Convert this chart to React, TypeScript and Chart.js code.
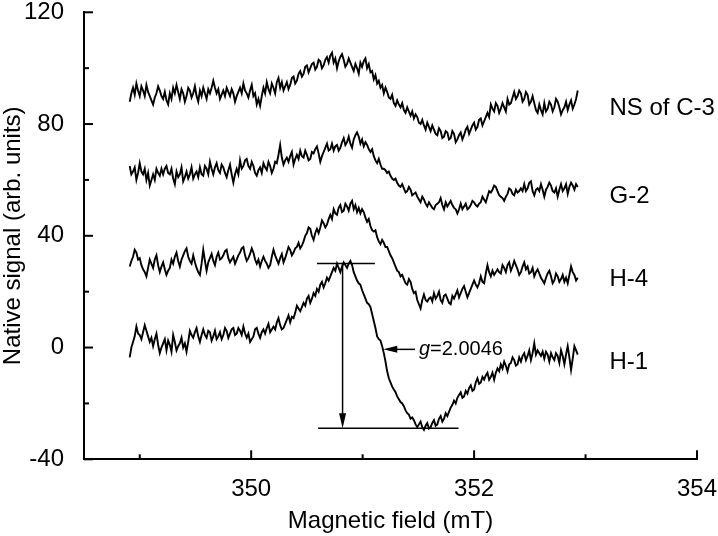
import React, { useEffect, useRef } from "react";
import { Chart, registerables } from "chart.js";

Chart.register(...registerables);

// Sampling of the magnetic field axis (mT)
const FIELD_START = 348.91;
const FIELD_STEP = 0.015;

// Native signal traces (arb. units)
const NS_C3 = [
  88, 91, 93, 90.5, 94.5, 92, 90, 93.5, 92, 90, 94, 91.5, 90, 88.5, 87, 89.5, 91, 93.5, 92, 90,
  89, 91.5, 88.5, 87, 91, 89, 93, 91, 94, 91.5, 89, 92.5, 91, 88, 90, 93, 92, 89.5, 91, 93.5,
  90, 88, 92, 90, 93, 91, 89, 92.5, 91, 93, 95.5, 93, 91, 92.5, 89, 90.5, 92, 90, 93, 91.5,
  90, 92.5, 91, 88, 90, 91.5, 93, 91, 94.5, 92, 91, 89.5, 92, 94, 90, 91, 87, 89, 86.5, 90,
  93, 91, 95, 92.5, 91, 94.5, 93, 91, 95, 96.5, 93, 95, 92, 93.5, 95, 92.5, 94, 96.5, 97, 94.5,
  95.5, 98, 99, 97, 98, 100.5, 101, 98.5, 100, 101.5, 102, 99.5, 100.5, 103, 102.5, 100, 101, 103, 104, 102,
  104.5, 105.5, 102, 103.5, 100, 102.5, 104, 105, 103, 100.5, 101.5, 103.5, 102, 100.5, 99, 101.5, 100, 98, 102, 100.5,
  102.5, 103.5, 100, 101.5, 98.5, 99, 96, 97.5, 94.5, 95.5, 93, 94, 91, 93, 91.5, 89.5, 89, 90.5, 87.5, 86.5,
  88.5, 87, 86, 87.5, 85, 84, 86, 84.5, 83, 84.5, 82, 83.5, 82.5, 80.5, 80, 81.5, 79.5, 78, 80.5, 79,
  77.5, 79.5, 78, 76.5, 76, 78.5, 77.5, 75, 75.5, 77.5, 77, 74.5, 75, 77.5, 76.5, 73.5, 74.5, 76, 77, 74.5,
  76, 78, 79, 76.5, 78, 79.5, 80.5, 78, 79, 81.5, 82, 79.5, 81, 82.5, 84, 82.5, 87, 85.5, 84.5, 87.5,
  86.5, 84, 85.5, 87.5, 86, 84.5, 89, 87, 87.5, 89.5, 91.5, 89, 90, 92, 91, 88, 89, 91.5, 90.5, 87,
  88, 90, 87.5, 85, 84, 87, 85, 83.5, 87.5, 84.5, 85.5, 88, 87, 84.5, 86, 89, 88, 86, 83.5, 85,
  86, 88, 85, 87, 88.5, 85.5, 87, 89, 92,
];

const G2 = [
  65, 62, 63, 64.5, 60, 62.5, 66, 63, 62, 64, 60, 62.5, 58, 60, 62, 60, 64, 62.5, 61.5, 64,
  62, 64, 65, 62.5, 62, 64, 60.5, 58.5, 63, 61, 62, 64.5, 59.5, 61, 63, 60.5, 62, 64.5, 60.5, 62,
  63, 61, 64.5, 62, 61.5, 65, 64, 62, 66.5, 64, 62, 64.5, 66, 63.5, 62.5, 65.5, 64.5, 62.5, 61, 63.5,
  65.5, 62, 59, 62, 64, 62, 67, 64, 65, 67, 67.5, 65, 64, 66.5, 65, 62.5, 61.5, 63.5, 64.5, 62.5,
  66, 64.5, 63.5, 66.5, 65, 62.5, 64, 66.5, 66, 69, 72.5, 68, 65.5, 67, 68, 66.5, 68.5, 70, 65.5, 67.5,
  69, 67.5, 70.5, 68.5, 68, 70.5, 69, 67, 67.5, 70, 69.5, 71, 72, 69.5, 66.5, 68.5, 70, 71.5, 73, 70.5,
  71, 73, 70.5, 72, 72.5, 70.5, 71.5, 73.5, 75, 72.5, 73.5, 75.5, 73, 71.5, 74.5, 76, 77, 75.5, 73, 74.5,
  72, 73.5, 72.5, 71, 70, 71, 68.5, 67, 66, 67.5, 65.5, 64, 64, 63.5, 62.5, 63, 61.5, 60.5, 60, 60.5,
  59, 58, 57.5, 58.5, 57, 55.5, 56, 57.5, 56.5, 54.5, 55, 55.5, 54, 53, 52, 54, 53, 51.5, 50.5, 52,
  51, 50, 49.5, 51, 51.5, 52, 53.5, 51, 49.5, 52, 50.5, 51.5, 52.5, 51, 50, 49.5, 48, 49.5, 51.5, 49.5,
  50.5, 51.5, 49.5, 50, 51, 52.5, 52, 51, 50.5, 51.5, 52, 54, 53, 52, 54, 56, 55.5, 56.5, 58, 57.5,
  56, 54.5, 54, 53.5, 52.5, 54, 55, 57, 56.5, 55, 54.5, 56.5, 55.5, 56, 57, 56, 58.5, 56, 57, 59,
  59.5, 56, 54.5, 56.5, 57, 56, 58.5, 56.5, 54, 56.5, 57.5, 59, 58, 56, 55.5, 57, 54, 56.5, 58.5, 56,
  57, 58.5, 55, 57.5, 59, 58, 56.5, 58.5, 57.5,
];

const H4 = [
  29, 31, 32.5, 35, 34, 31.5, 32, 29.5, 28, 27, 25.5, 28.5, 31.5, 30, 28.5, 31.5, 33, 29.5, 27, 29,
  30.5, 28, 26, 27.5, 28.5, 31.5, 30, 32.5, 34, 31, 29, 31.5, 33, 34.5, 35.5, 32.5, 31, 30, 33, 30.5,
  28.5, 27, 26, 30, 35, 31, 27.5, 30.5, 32, 33.5, 31, 29.5, 32.5, 34, 31.5, 32, 33, 34.5, 35, 32,
  30.5, 31.5, 32.5, 30, 31.5, 33, 34, 35.5, 36, 33, 31, 32, 33.5, 35.5, 34, 31.5, 30, 31.5, 29, 31,
  32.5, 31, 30, 28.5, 29.5, 32.5, 35, 33, 31.5, 30, 32, 33.5, 30.5, 32, 34, 36, 35, 33, 34, 35.5,
  36, 37.5, 35.5, 36.5, 38, 40, 41, 43, 42.5, 40, 38.5, 41, 42.5, 41, 43, 45.5, 44.5, 43, 44, 46,
  47.5, 46, 49.5, 48, 47.5, 50, 51, 48.5, 49, 51.5, 50.5, 49, 51.5, 52.5, 49.5, 51, 48.5, 50, 48, 49.5,
  48.5, 46.5, 45, 46, 43.5, 42, 41.5, 42, 39.5, 38, 37, 38.5, 37.5, 36, 36, 34.5, 33, 32, 30.5, 29,
  27.5, 27, 25.5, 26, 24.5, 23, 22.5, 24.5, 23.5, 21, 19.5, 20, 17, 15.5, 14, 17, 19, 17, 16.5, 17.5,
  18, 16.5, 19.5, 17.5, 18.5, 20, 17, 16, 18.5, 19, 17.5, 16, 15.5, 18.5, 17.5, 19, 20.5, 18, 19.5, 21,
  22, 20, 18, 19.5, 21, 22.5, 24, 22.5, 21.5, 23, 25.5, 23.5, 23, 26.5, 29.5, 27, 25.5, 27.5, 26, 27,
  28, 27, 26.5, 29.5, 28.5, 27, 29.5, 30.5, 27.5, 29, 31, 29.5, 28, 26, 27, 29, 30.5, 28, 29, 26.5,
  27, 28.5, 25.5, 27, 28, 26.5, 25, 24, 23, 25, 26.5, 27.5, 25.5, 23, 24, 26.5, 25.5, 23.5, 24.5, 26,
  23.5, 25, 23, 26, 29, 27, 26, 24, 25,
];

const H1 = [
  -3.5, 0, 2, 4, 7.5, 5, 4.5, 3, 5.5, 8, 6, 4, 2, 3.5, 0.5, 3, 5, 1, -2, 0,
  1.5, 3, -1, 2.5, 1, -1.5, 4.5, 2, -1, 0.5, 1.5, 3.5, 0, 1.5, -1.5, 2, 6, 4.5, 3.5, 5.5,
  7, 4, 2, 4.5, 6.5, 4.5, 3.5, 6, 5.5, 2.5, 4, 6, 3, 4, 5.5, 3, 4.5, 7, 6, 3.5,
  5, 6.5, 7, 4.5, 5, 7, 6, 4.5, 7.5, 5, 3.5, 5, 2, 3, 4, 6.5, 7, 5, 3.5, 5.5,
  6.5, 5, 7, 8.5, 5.5, 6.5, 7.5, 6.5, 9, 10.5, 8, 6.5, 7, 8.5, 10, 11.5, 9, 11, 10.5, 12.5,
  15, 14, 13, 14.5, 16, 15, 17.5, 18.5, 16, 17.5, 19.5, 18.5, 21, 20, 22.5, 23.5, 21.5, 23, 25, 24,
  25.5, 27, 28.5, 27.5, 30, 28.5, 27, 29, 30.5, 29.5, 28.5, 30, 31, 29.5, 27, 25.5, 24, 23, 22.5, 20.5,
  19, 17.5, 16, 15.5, 14.5, 12, 9.5, 7, 4, 3, 2.5, 0.5, -2, -5, -8.5, -11, -12.5, -14, -15, -16,
  -17.5, -18.5, -19.5, -20, -21, -22.5, -23.5, -24, -25.5, -25, -26, -27.5, -28.5, -27.5, -26.5, -28.5, -29.5, -28, -27, -29,
  -28.5, -27, -26, -28, -27.5, -25.5, -24.5, -26.5, -25.5, -23.5, -24.5, -23, -21.5, -20.5, -19, -20, -18, -17, -16, -18,
  -17.5, -15.5, -16.5, -14.5, -13.5, -15.5, -15, -12.5, -11, -13, -12.5, -10.5, -11.5, -10, -9, -11.5, -10.5, -9, -11.5, -9,
  -7.5, -8.5, -6, -7.5, -5, -6.5, -8.5, -6, -5.5, -3.5, -4.5, -6.5, -6, -3.5, -5, -3, -2, -4.5, -3, -1,
  -4.5, -2, 1.5, -2.5, -1, -2, -3, -1.5, -4, -1.5, -2.5, -5, -2, -3.5, -4.5, -2, -3, -5.5, -1, -3,
  -6, -2.5, 0.5, -3.5, -8, -4, 0.5, -1, -2.5,
];

const SERIES_NAMES = ["NS of C-3", "G-2", "H-4", "H-1"];
const SERIES_VALUES = [NS_C3, G2, H4, H1];
const LABEL_FIELD = 353.215;
const LABEL_BASELINES = [83.2, 51.8, 22.0, -7.6];

const X_TICKS = [350, 352, 354];
const X_MINOR = [349, 351, 353];
const Y_TICKS = [-40, 0, 40, 80, 120];
const Y_MINOR = [-20, 20, 60, 100];

// Peak-to-peak annotation (data coordinates)
const PEAK_LINE = { from: 350.59, to: 351.11, y: 30.1 };
const TROUGH_LINE = { from: 350.6, to: 351.86, y: -28.9 };
const PP_ARROW_FIELD = 350.82;
const G_ARROW = { from: 351.47, to: 351.185, y: -0.65 };
const G_TEXT = { x: 351.505, y: -2.8, value: "=2.0046" };

const FONT = '"Liberation Sans", Arial, Helvetica, sans-serif';

const toPoints = (vals: number[]) =>
  vals.map((v, i) => ({ x: +(FIELD_START + i * FIELD_STEP).toFixed(4), y: v }));

const annotationPlugin = {
  id: "eprAnnotations",
  afterDraw(chart: any) {
    const { ctx, chartArea } = chart;
    const xs = chart.scales.x;
    const ys = chart.scales.y;
    const X = (v: number) => xs.getPixelForValue(v);
    const Y = (v: number) => ys.getPixelForValue(v);
    ctx.save();
    ctx.strokeStyle = "#000";
    ctx.fillStyle = "#000";
    const line = (x1: number, y1: number, x2: number, y2: number) => {
      ctx.beginPath();
      ctx.moveTo(x1, y1);
      ctx.lineTo(x2, y2);
      ctx.stroke();
    };
    // inward ticks
    ctx.lineWidth = 2;
    const b = chartArea.bottom;
    const l = chartArea.left;
    X_TICKS.forEach((v) => line(X(v), b, X(v), b - 9));
    X_MINOR.forEach((v) => line(X(v), b, X(v), b - 5));
    Y_TICKS.forEach((v) => line(l, Y(v), l + 9, Y(v)));
    Y_MINOR.forEach((v) => line(l, Y(v), l + 5, Y(v)));

    // series labels
    ctx.font = `24px ${FONT}`;
    ctx.textAlign = "left";
    ctx.textBaseline = "alphabetic";
    SERIES_NAMES.forEach((name, i) => {
      ctx.fillText(name, X(LABEL_FIELD), Y(LABEL_BASELINES[i]));
    });

    // peak-to-peak lines and arrow
    ctx.lineWidth = 1.5;
    line(X(PEAK_LINE.from), Y(PEAK_LINE.y), X(PEAK_LINE.to), Y(PEAK_LINE.y));
    line(X(TROUGH_LINE.from), Y(TROUGH_LINE.y), X(TROUGH_LINE.to), Y(TROUGH_LINE.y));
    const ax = X(PP_ARROW_FIELD);
    const tipY = Y(TROUGH_LINE.y);
    line(ax, Y(PEAK_LINE.y), ax, tipY - 10);
    ctx.beginPath();
    ctx.moveTo(ax, tipY);
    ctx.lineTo(ax - 3.5, tipY - 15);
    ctx.lineTo(ax + 3.5, tipY - 15);
    ctx.closePath();
    ctx.fill();

    // g-value arrow
    const gy = Y(G_ARROW.y);
    const gTip = X(G_ARROW.to);
    line(X(G_ARROW.from), gy, gTip + 10, gy);
    ctx.beginPath();
    ctx.moveTo(gTip, gy);
    ctx.lineTo(gTip + 14, gy - 3.5);
    ctx.lineTo(gTip + 14, gy + 3.5);
    ctx.closePath();
    ctx.fill();

    // g text
    const tx = X(G_TEXT.x);
    const ty = Y(G_TEXT.y);
    ctx.font = `italic 20px ${FONT}`;
    ctx.fillText("g", tx, ty);
    const gw = ctx.measureText("g").width;
    ctx.font = `20px ${FONT}`;
    ctx.fillText(G_TEXT.value, tx + gw, ty);
    ctx.restore();
  },
};

export default function App() {
  const canvasRef = useRef<HTMLCanvasElement | null>(null);

  useEffect(() => {
    const canvas = canvasRef.current;
    if (!canvas) return;
    const chart = new Chart(canvas, {
      type: "line",
      data: {
        datasets: SERIES_VALUES.map((vals, i) => ({
          label: SERIES_NAMES[i],
          data: toPoints(vals),
          borderColor: "#000",
          backgroundColor: "#000",
          borderWidth: 1.9,
          pointRadius: 0,
          tension: 0,
          fill: false,
        })),
      },
      options: {
        responsive: false,
        animation: false,
        devicePixelRatio: 1,
        layout: { padding: { top: 12.3, right: 21, bottom: 0, left: 0 } },
        plugins: {
          legend: { display: false },
          tooltip: { enabled: false },
        },
        scales: {
          x: {
            type: "linear",
            min: 348.5,
            max: 354,
            grid: { display: false },
            border: { display: true, color: "#000", width: 2 },
            ticks: {
              color: "#000",
              padding: 8,
              font: { family: FONT, size: 24 },
              maxRotation: 0,
              callback: (v: any) => String(v),
            },
            title: {
              display: true,
              text: "Magnetic field (mT)",
              color: "#000",
              font: { family: FONT, size: 24 },
              padding: { top: 0, bottom: 0 },
            },
            afterBuildTicks: (scale: any) => {
              scale.ticks = X_TICKS.map((v) => ({ value: v }));
            },
            afterFit: (scale: any) => {
              scale.height = 536 - 459.3;
              scale.paddingLeft = 0;
              scale.paddingRight = 0;
            },
          },
          y: {
            type: "linear",
            min: -40,
            max: 120,
            grid: { display: false },
            border: { display: true, color: "#000", width: 2 },
            ticks: {
              color: "#000",
              padding: 12,
              font: { family: FONT, size: 24 },
              callback: (v: any) => String(v),
            },
            title: {
              display: true,
              text: "Native signal (arb. units)",
              color: "#000",
              font: { family: FONT, size: 24 },
              padding: { top: -1, bottom: 0 },
            },
            afterBuildTicks: (scale: any) => {
              scale.ticks = Y_TICKS.map((v) => ({ value: v }));
            },
            afterFit: (scale: any) => {
              scale.width = 84;
              scale.paddingTop = 0;
              scale.paddingBottom = 0;
            },
          },
        },
      },
      plugins: [annotationPlugin],
    });
    return () => chart.destroy();
  }, []);

  return (
    <div style={{ position: "absolute", left: 0, top: 0, width: 718, height: 536, background: "#fff" }}>
      <canvas ref={canvasRef} width={718} height={536} style={{ display: "block" }} />
    </div>
  );
}
